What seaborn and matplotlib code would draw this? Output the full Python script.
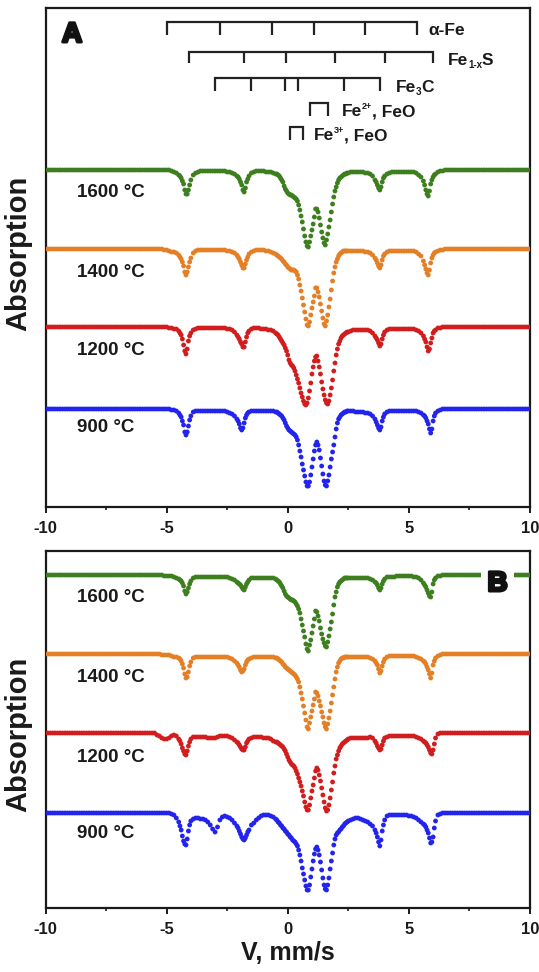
import numpy as np
import pandas as pd
import matplotlib
matplotlib.use('Agg')
import matplotlib.pyplot as plt
import matplotlib.patheffects as pe
from matplotlib.ticker import MultipleLocator, FuncFormatter
from matplotlib.transforms import offset_copy
import seaborn as sns

# ---------------- data ----------------
# velocity channels (mm/s)
V = [round(-10 + 0.1 * i, 1) for i in range(201)]
# extra (half-step) channels read in the dip regions
V_HALF = [-4.45, -4.35, -4.25, -4.15, -4.05, -2.05, -1.95, -1.85, -1.75, -1.65,
          -0.45, -0.35, -0.25, -0.15, -0.05, 0.05, 0.15, 0.25, 0.35, 0.45,
          0.55, 0.65, 0.75, 0.85, 0.95, 1.05, 1.15, 1.25, 1.35, 1.45,
          1.55, 1.65, 1.75, 1.85, 1.95, 2.05, 2.15, 2.25, 2.35, 2.45,
          3.65, 3.75, 3.85, 3.95, 5.65, 5.75, 5.85, 5.95, 6.05]

TEMPS = ['1600 °C', '1400 °C', '1200 °C', '900 °C']
COLORS = ['#3d7e1e', '#e47f26', '#d11d1d', '#2323ee']

# absorption depth (arb. units) per channel, rows = 1 mm/s each
A_1600 = [0,0,0,0,0,0,0,0,0,0,  0,0,0,0,0,0,0,0,0,0,  0,0,0,0,0,0,0,0,0,0,
          0,0,0,0,0,0,0,0,0,0,  0,0,0,0,0,0,0,0,0,0,
          0,0,1,2,3,5,8,14,24,20,  10,5,3,2,1,1,1,1,1,1,  1,1,1,1,1,2,2,3,4,6,
          9,15,22,12,6,3,2,1,1,1,  1,2,2,2,3,4,5,8,12,19,
          23,25,26,28,31,40,52,66,76,72,  60,47,39,48,62,73,70,57,42,27,
          17,10,7,5,4,3,2,2,2,2,  2,2,3,3,4,6,10,15,20,12,  6,4,3,2,2,2,2,2,2,2,
          2,2,2,3,5,7,11,20,26,14,  7,4,2,1,1,0,0,0,0,0,
          0,0,0,0,0,0,0,0,0,0,  0,0,0,0,0,0,0,0,0,0,  0,0,0,0,0,0,0,0,0,0,  0]
A_1400 = [0,0,0,0,0,0,0,0,0,0,  0,0,0,0,0,0,0,0,0,0,  0,0,0,0,0,0,0,0,0,0,
          0,0,0,0,0,0,0,0,0,0,  0,0,0,0,0,0,0,0,0,1,
          1,2,3,3,4,6,10,17,26,18,  9,4,2,1,1,1,1,1,1,1,  1,1,1,1,1,2,2,3,4,6,
          10,16,19,11,5,3,2,1,1,1,  1,2,2,3,4,5,7,9,12,15,
          18,20,21,22,26,36,49,63,76,73,  59,47,39,48,62,75,72,58,41,24,
          13,7,4,2,2,2,2,2,2,2,  2,2,3,3,4,6,9,14,19,11,  5,3,2,2,2,2,2,2,2,2,
          2,2,2,3,5,7,12,20,26,14,  6,3,2,1,1,0,0,0,0,0,
          0,0,0,0,0,0,0,0,0,0,  0,0,0,0,0,0,0,0,0,0,  0,0,0,0,0,0,0,0,0,0,  0]
A_1200 = [0,0,0,0,0,0,0,0,0,0,  0,0,0,0,0,0,0,0,0,0,  0,0,0,0,0,0,0,0,0,0,
          0,0,0,0,0,0,0,0,0,0,  0,0,0,0,0,0,0,0,0,0,
          0,1,1,2,2,4,8,18,27,14,  6,3,2,1,1,1,1,1,1,1,  1,1,1,1,1,2,2,3,5,8,
          12,17,20,10,4,2,1,1,1,2,  2,2,3,3,4,6,8,12,16,21,
          28,36,39,44,52,61,70,77,76,64,  47,34,29,40,55,68,76,74,61,44,
          28,17,11,8,6,5,4,3,3,3,  3,3,3,3,4,6,9,13,19,12,  5,3,2,2,2,2,2,2,2,2,
          2,2,2,3,4,6,9,15,24,16,  6,3,1,1,0,0,0,0,0,0,
          0,0,0,0,0,0,0,0,0,0,  0,0,0,0,0,0,0,0,0,0,  0,0,0,0,0,0,0,0,0,0,  0]
A_900 = [0,0,0,0,0,0,0,0,0,0,  0,0,0,0,0,0,0,0,0,0,  0,0,0,0,0,0,0,0,0,0,
         0,0,0,0,0,0,0,0,0,0,  0,0,0,0,0,0,0,0,0,0,
         0,0,1,1,2,4,8,16,26,17,  7,3,2,2,2,2,2,2,2,2,  2,2,2,2,2,3,4,5,7,10,
         15,21,14,6,3,2,2,2,2,2,  2,2,2,2,2,3,4,6,9,14,
         19,22,24,26,31,42,55,67,77,73,  58,42,33,41,57,72,77,66,50,36,
         20,10,6,4,3,2,2,2,3,3,  3,3,4,4,5,7,10,16,21,12,  5,3,2,2,2,2,2,2,2,2,
         2,2,2,2,3,4,6,9,15,24,  12,4,2,1,0,0,0,0,0,0,
         0,0,0,0,0,0,0,0,0,0,  0,0,0,0,0,0,0,0,0,0,  0,0,0,0,0,0,0,0,0,0,  0]

B_1600 = [0,0,0,0,0,0,0,0,0,0,  0,0,0,0,0,0,0,0,0,0,  0,0,0,0,0,0,0,0,0,0,
          0,0,0,0,0,0,0,0,0,0,  0,0,0,0,0,0,0,0,0,1,
          1,1,1,2,3,4,6,11,19,13,  6,3,2,2,2,2,2,2,2,2,  2,2,2,2,2,2,3,4,5,7,
          9,12,15,9,5,3,3,3,3,3,  3,3,3,3,3,4,6,9,13,19,
          22,24,25,27,31,38,50,62,74,70,  58,44,37,46,59,68,72,61,47,30,
          17,9,6,4,3,3,3,3,3,3,  3,3,3,3,4,5,7,10,15,9,  4,2,2,2,2,1,1,1,1,1,
          1,1,2,2,3,5,8,12,18,22,  9,3,1,1,0,0,0,0,0,0,
          0,0,0,0,0,0,0,0,0,0,  0,0,0,0,0,0,0,0,0,0,  0,0,0,0,0,0,0,0,0,0,  0]
B_1400 = [0,0,0,0,0,0,0,0,0,0,  0,0,0,0,0,0,0,0,0,0,  0,0,0,0,0,0,0,0,0,0,
          0,0,0,0,0,0,0,0,0,0,  0,0,0,0,0,0,0,0,1,1,
          1,1,2,3,3,4,7,14,24,18,  8,4,3,3,3,3,3,3,3,3,  3,3,3,3,3,3,4,5,7,9,
          13,18,15,8,5,4,3,3,3,3,  3,3,3,3,3,4,5,7,10,13,
          15,17,19,21,25,33,45,59,73,69,  57,45,39,47,58,69,75,64,49,33,
          18,9,5,4,3,3,3,3,3,3,  3,3,3,3,4,5,7,11,19,12,  5,3,2,2,2,2,2,2,2,2,
          2,2,2,3,4,5,7,10,16,24,  11,4,2,1,0,0,0,0,0,0,
          0,0,0,0,0,0,0,0,0,0,  0,0,0,0,0,0,0,0,0,0,  0,0,0,0,0,0,0,0,0,0,  0]
B_1200 = [0,0,0,0,0,0,0,0,0,0,  0,0,0,0,0,0,0,0,0,0,  0,0,0,0,0,0,0,0,0,0,
          0,0,0,0,0,0,0,0,0,0,  0,0,0,0,0,0,2,3,5,6,
          6,5,3,2,3,6,11,18,22,13,  6,4,4,4,4,4,4,5,5,5,  5,4,3,3,3,3,4,5,7,9,
          12,16,17,10,6,5,4,4,4,4,  5,5,5,6,8,9,10,12,14,18,
          24,29,32,35,41,49,58,69,77,72,  58,45,35,42,55,69,78,72,57,40,
          26,18,13,10,8,6,5,5,5,5,  5,5,5,5,4,5,8,13,17,12,  5,4,3,3,3,3,3,3,3,3,
          3,3,3,4,5,6,8,10,14,20,  17,5,1,0,0,0,0,0,0,0,
          0,0,0,0,0,0,0,0,0,0,  0,0,0,0,0,0,0,0,0,0,  0,0,0,0,0,0,0,0,0,0,  0]
B_900 = [0,0,0,0,0,0,0,0,0,0,  0,0,0,0,0,0,0,0,0,0,  0,0,0,0,0,0,0,0,0,0,
         0,0,0,0,0,0,0,0,0,0,  0,0,0,0,0,0,0,0,0,0,
         0,0,1,2,5,9,17,28,32,18,  8,6,5,5,6,6,7,9,12,16,  19,14,7,4,3,4,5,7,10,13,
         18,24,27,22,17,12,10,7,5,3,  2,2,2,3,4,6,9,12,15,18,
         21,24,27,29,33,42,55,67,77,72,  56,41,34,42,57,72,77,65,48,32,
         22,19,16,13,10,8,7,6,5,5,  6,7,8,9,11,13,17,24,33,18,  7,3,2,2,2,2,2,2,2,2,
         3,3,4,5,7,9,11,14,20,30,  24,8,2,1,0,0,0,0,0,0,
         0,0,0,0,0,0,0,0,0,0,  0,0,0,0,0,0,0,0,0,0,  0,0,0,0,0,0,0,0,0,0,  0]

# depths at the half-step channels V_HALF
A_1600_H = [6,11,20,24,15, 7,12,20,18,9,
            4,6,10,16,21,24,25,27,29,35, 46,59,72,77,66,54,39,42,55,68,
            75,64,50,34,21,13,8,6,4,3,
            12,18,17,8, 15,24,21,10,5]
A_1400_H = [8,13,23,23,13, 8,13,19,15,8,
            6,8,10,13,16,19,21,21,23,30, 42,56,70,77,66,53,39,43,55,69,
            77,66,50,32,18,10,5,3,2,2,
            11,17,16,7, 16,24,21,9,4]
A_1200_H = [6,12,24,22,9, 10,15,20,15,6,
            7,10,14,18,24,33,38,41,48,56, 66,74,78,71,56,40,30,34,47,62,
            73,77,68,53,36,22,14,9,7,5,
            11,16,17,8, 12,20,22,11,4]
A_900_H = [6,12,23,23,11, 12,19,19,9,4,
           3,5,7,11,17,21,23,25,28,36, 48,61,73,77,66,50,36,36,49,65,
           76,72,58,43,28,14,8,5,3,2,
           13,19,18,8, 7,12,20,20,7]
B_1600_H = [5,8,16,17,9, 8,10,14,12,7,
            5,7,11,16,21,23,25,26,29,34, 44,56,69,76,65,51,36,41,53,64,
            71,67,54,39,22,12,7,5,3,3,
            8,13,13,6, 10,15,21,17,5]
B_1400_H = [5,10,20,23,12, 11,16,17,11,6,
            4,6,8,11,14,16,18,20,23,28, 39,52,66,75,63,51,38,42,52,63,
            73,70,57,41,25,13,7,4,3,3,
            9,15,17,8, 8,13,20,19,7]
B_1200_H = [8,15,21,18,9, 10,14,17,14,8,
            9,11,13,16,21,27,31,33,38,45, 53,63,74,77,65,52,38,37,48,62,
            75,77,65,49,33,22,15,11,9,7,
            10,15,16,8, 9,12,17,21,11]
B_900_H = [13,23,31,26,12, 15,21,26,25,19,
           7,10,13,16,19,22,25,28,31,37, 48,61,73,77,64,48,36,37,49,65,
           76,72,56,40,26,20,17,14,11,9,
           20,29,27,12, 12,17,25,29,15]

# stick diagrams (line positions, mm/s)
ALPHA_FE = [-5.0, -2.8, -0.65, 1.08, 3.2, 5.33]
FE1XS = [-4.08, -1.80, -0.08, 1.95, 4.01, 6.0]
FE3C = [-3.0, -1.5, -0.12, 0.43, 2.34, 3.81]
FEO_2 = [0.91, 1.67]
FEO_3 = [0.11, 0.63]

for arr in (A_1600, A_1400, A_1200, A_900, B_1600, B_1400, B_1200, B_900):
    assert len(arr) == 201, len(arr)
for arr in (A_1600_H, A_1400_H, A_1200_H, A_900_H,
            B_1600_H, B_1400_H, B_1200_H, B_900_H):
    assert len(arr) == len(V_HALF), len(arr)

# ---------------- style ----------------
sns.set_style('white')
plt.rcParams['font.family'] = ['Liberation Sans', 'DejaVu Sans']
plt.rcParams['font.weight'] = 'bold'

INK = '#1a1a1a'
palette = dict(zip(TEMPS, COLORS))
OFFS_A = [0, -79, -157, -239]
OFFS_B = [0, -79, -158, -238]


def make_df(series, halves, offs):
    rows = []
    for t, d, h, o in zip(TEMPS, series, halves, offs):
        vv = V + V_HALF
        dd = list(d) + list(h)
        rows.append(pd.DataFrame({'v': vv, 'y': [o - x for x in dd], 'temp': t}))
    return pd.concat(rows, ignore_index=True).sort_values(['temp', 'v'])


dfA = make_df([A_1600, A_1400, A_1200, A_900],
              [A_1600_H, A_1400_H, A_1200_H, A_900_H], OFFS_A)
dfB = make_df([B_1600, B_1400, B_1200, B_900],
              [B_1600_H, B_1400_H, B_1200_H, B_900_H], OFFS_B)

fig = plt.figure(figsize=(5.39, 9.72), dpi=100)
W = 539.0; H = 972.0
axA = fig.add_axes([45.5 / W, 1 - 507 / H, 484.5 / W, 499 / H])
axB = fig.add_axes([45.5 / W, 1 - 908 / H, 484.5 / W, 357 / H])

for ax, df, ylim in ((axA, dfA, (-337, 162)), (axB, dfB, (-333, 24))):
    sns.scatterplot(data=df, x='v', y='y', hue='temp', palette=palette, s=12,
                    linewidth=0, legend=False, ax=ax, zorder=3)
    ax.set_xlim(-10, 10)
    ax.set_ylim(*ylim)
    ax.set_yticks([])
    ax.set_xlabel('')
    ax.set_ylabel('')
    ax.xaxis.set_major_locator(MultipleLocator(5))
    ax.xaxis.set_minor_locator(MultipleLocator(2.5))
    ax.xaxis.set_major_formatter(FuncFormatter(lambda val, pos: f'{val:.0f}'))
    ax.tick_params(axis='x', which='major', direction='out', length=4, width=1.4,
                   pad=6, labelsize=12, colors=INK, bottom=True)
    ax.tick_params(axis='x', which='minor', direction='out', length=2.5, width=1.2,
                   bottom=True, colors=INK)
    for lab in ax.get_xticklabels():
        lab.set_fontweight('bold')
    for sp in ax.spines.values():
        sp.set_linewidth(1.6)
        sp.set_color(INK)

# temperature labels
for ax, offs in ((axA, [-22, -102, -180, -257]), (axB, [-23, -103, -183, -258])):
    for t, y in zip(TEMPS, offs):
        ax.text(-8.7, y, t, fontsize=13.5, fontweight='bold', ha='left',
                va='center', color=INK, zorder=4)


# stick diagrams on panel A
def sticks(ax, pos, ytop, ybot):
    x0, x1 = min(pos), max(pos)
    ax.plot([x0, x0, x1, x1], [ybot, ytop, ytop, ybot], color='#222222', lw=1.6,
            solid_joinstyle='miter', solid_capstyle='butt', zorder=4)
    for p in pos[1:-1]:
        ax.plot([p, p], [ytop, ybot], color='#222222', lw=1.6,
                solid_capstyle='butt', zorder=4)


sticks(axA, ALPHA_FE, 148, 135)
sticks(axA, FE1XS, 118, 107)
sticks(axA, FE3C, 92, 79)
sticks(axA, FEO_2, 67, 54)
sticks(axA, FEO_3, 43, 30)

renderer = fig.canvas.get_renderer()


def rich(ax, x, y, parts):
    """parts: list of (text, fontsize, vertical offset in points)"""
    dx = 0.0
    for s, size, dy in parts:
        tr = offset_copy(ax.transData, fig=ax.figure, x=dx, y=dy, units='points')
        t = ax.text(x, y, s, fontsize=size, fontweight='bold', ha='left',
                    va='baseline', color=INK, transform=tr, zorder=4)
        w = t.get_window_extent(renderer=renderer).width
        dx += w * 72.0 / ax.figure.dpi


rich(axA, 5.82, 135, [('α-Fe', 12.5, 0)])
rich(axA, 6.6, 105, [('Fe', 12.5, 0), ('1-x', 7, -2.2), ('S', 12.5, 0)])
rich(axA, 4.45, 78, [('Fe', 12.5, 0), ('3', 7, -2.2), ('C', 12.5, 0)])
rich(axA, 2.22, 54, [('Fe', 12.5, 0), ('2+', 6.5, 5.2), (', FeO', 12.5, 0)])
rich(axA, 1.06, 30, [('Fe', 12.5, 0), ('3+', 6.5, 5.2), (', FeO', 12.5, 0)])

heavy = [pe.withStroke(linewidth=2.2, foreground='#111111')]
axA.text(0.0547, 0.946, 'A', transform=axA.transAxes, fontsize=20,
         fontweight='bold', ha='center', va='center', color='#111111',
         path_effects=heavy, zorder=5)
axB.text(0.933, 0.9076, 'B', transform=axB.transAxes, fontsize=20,
         fontweight='bold', ha='center', va='center', color='#111111',
         path_effects=heavy, zorder=5,
         bbox=dict(facecolor='white', edgecolor='none', pad=5))

fig.text(18 / W, 1 - 253 / H, 'Absorption', rotation=90, fontsize=21,
         fontweight='bold', ha='center', va='center', color=INK)
fig.text(18 / W, 1 - 734 / H, 'Absorption', rotation=90, fontsize=21,
         fontweight='bold', ha='center', va='center', color=INK)
fig.text(288 / W, 1 - 953 / H, 'V, mm/s', fontsize=18, fontweight='bold',
         ha='center', va='center', color=INK)

fig.savefig('out.png', dpi=100)
